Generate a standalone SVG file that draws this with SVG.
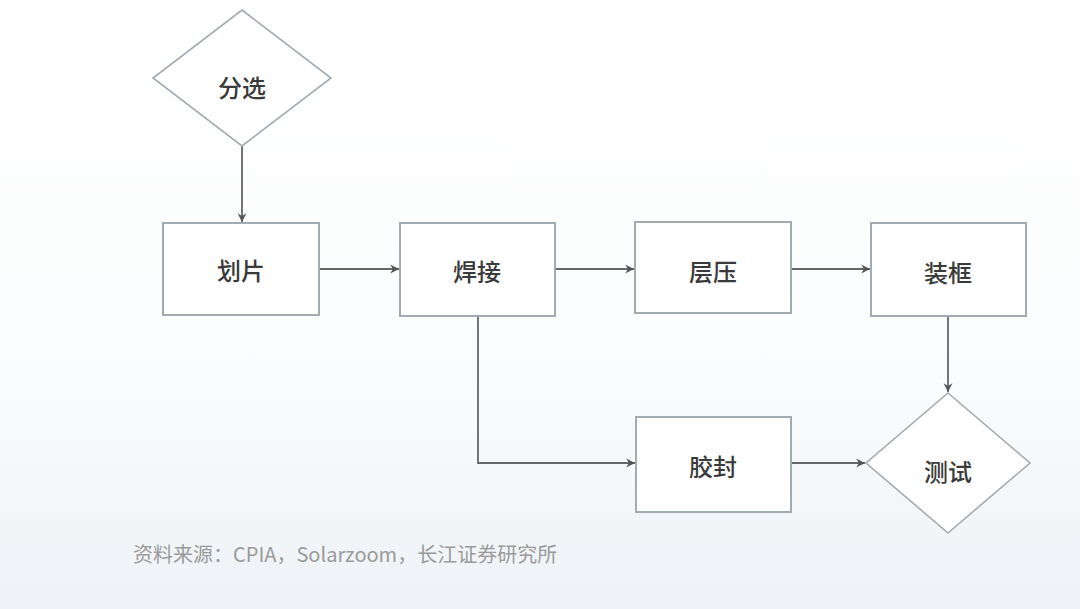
<svg xmlns="http://www.w3.org/2000/svg" width="1080" height="609" viewBox="0 0 1080 609">
<defs>
<linearGradient id="bg" x1="0" y1="0" x2="0" y2="1">
<stop offset="0" stop-color="#ffffff"/>
<stop offset="0.6" stop-color="#fbfcfd"/>
<stop offset="1" stop-color="#eef2f6"/>
</linearGradient>
<marker id="arr" viewBox="0 0 10 10" refX="9" refY="5" markerWidth="11" markerHeight="11" orient="auto" markerUnits="userSpaceOnUse">
<path d="M1,1 L9,5 L1,9 L3.5,5 Z" fill="#555"/>
</marker>
<style>
.box{fill:#ffffff;stroke:#a3aab0;stroke-width:2}
.dia{fill:#ffffff;stroke:#a3aab0;stroke-width:1.6}
.lbl{font-family:"Noto Sans CJK SC","Noto Sans",sans-serif;font-size:24px;font-weight:500;fill:#3a3a3a;text-anchor:middle;dominant-baseline:central}
.con{fill:none;stroke:#666;stroke-width:1.8;marker-end:url(#arr)}
.src{font-family:"Noto Sans CJK SC","Noto Sans",sans-serif;font-size:20px;fill:#9a9a9a}
</style>
</defs>
<rect x="0" y="0" width="1080" height="609" fill="url(#bg)"/>
<g id="connectors">
<line class="con" x1="242" y1="146" x2="242" y2="222"/>
<line class="con" x1="319" y1="269" x2="399" y2="269"/>
<line class="con" x1="555" y1="269" x2="634" y2="269"/>
<line class="con" x1="791" y1="269" x2="870" y2="269"/>
<line class="con" x1="948" y1="316" x2="948" y2="392"/>
<polyline class="con" points="478,316 478,463 635,463"/>
<line class="con" x1="791" y1="463" x2="865" y2="463"/>
</g>
<g id="fenxuan">
<polygon class="dia" points="242,10 331,78 242,146 153,78"/>
<text class="lbl" x="242" y="86">分选</text>
</g>
<g id="huapian">
<rect class="box" x="163" y="223" width="156" height="92"/>
<text class="lbl" x="241" y="269">划片</text>
</g>
<g id="hanjie">
<rect class="box" x="400" y="223" width="155" height="93"/>
<text class="lbl" x="477" y="270">焊接</text>
</g>
<g id="cengya">
<rect class="box" x="635" y="222" width="156" height="91"/>
<text class="lbl" x="713" y="270">层压</text>
</g>
<g id="zhuangkuang">
<rect class="box" x="871" y="223" width="155" height="93"/>
<text class="lbl" x="948" y="271">装框</text>
</g>
<g id="jiaofeng">
<rect class="box" x="636" y="417" width="155" height="95"/>
<text class="lbl" x="713" y="465">胶封</text>
</g>
<g id="ceshi">
<polygon class="dia" points="948,393 1030,463 948,533 866,463"/>
<text class="lbl" x="948" y="470">测试</text>
</g>
<text class="src" x="133" y="562">资料来源：CPIA，Solarzoom，长江证券研究所</text>
</svg>
